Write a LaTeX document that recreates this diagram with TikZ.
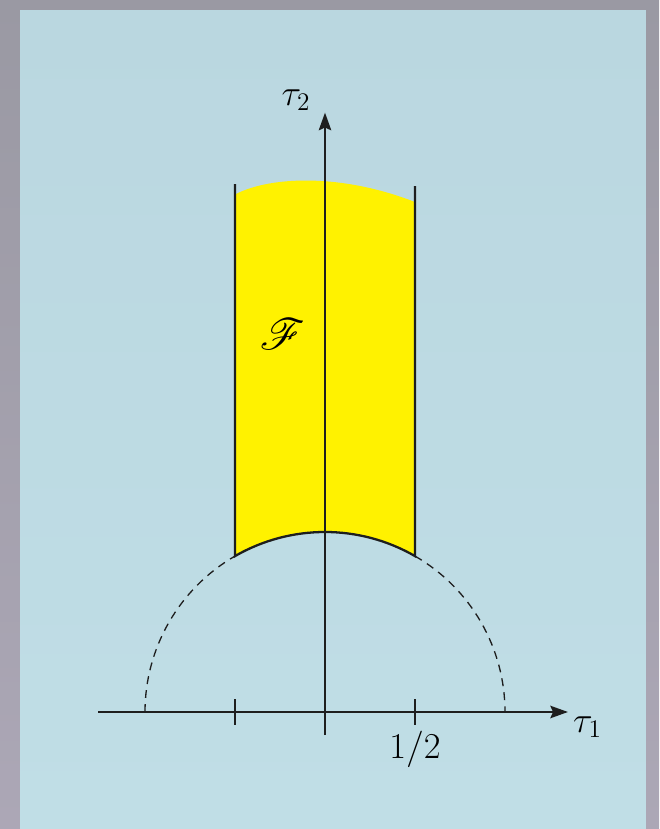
\documentclass[tikz,border=0pt]{standalone}
\usepackage{mathrsfs}
\usetikzlibrary{arrows.meta}

\definecolor{frameGray}{RGB}{154,153,163}
\definecolor{frameLow}{RGB}{172,167,182}
\definecolor{paneBlue}{RGB}{186,215,224}
\definecolor{paneLow}{RGB}{192,222,230}
\definecolor{domYellow}{RGB}{255,242,0}
\definecolor{inkBlack}{RGB}{30,30,30}

\tikzset{
  axis/.style={draw=inkBlack,line width=1.5pt,-{Stealth[length=10pt,width=7pt,inset=1.5pt]}},
  wall/.style={draw=inkBlack,line width=1.3pt},
  tick/.style={draw=inkBlack,line width=0.6pt},
  ghost/.style={draw=inkBlack,line width=0.75pt,dash pattern=on 4.5pt off 3.5pt},
  lbl/.style={inner sep=0pt,text=black,font=\fontsize{21.5}{26}\selectfont}
}

\begin{document}
\begin{tikzpicture}[>=Stealth,x=3.6cm,y=3.6cm]
  \useasboundingbox (-1.8056,-0.65) rectangle (1.8556,3.9556);
  \shade[top color=frameGray,bottom color=frameLow] (-1.8056,-0.65) rectangle (1.8556,3.9556);
  \shade[top color=paneBlue,bottom color=paneLow] (-1.6944,-0.65) rectangle (1.7833,3.9);

  % fundamental domain
  \fill[domYellow] (120:1) -- (-0.5,2.875)
    .. controls (-0.3,2.98) and (0.1,2.99) .. (0.5,2.833)
    -- (60:1) arc[start angle=60,end angle=120,radius=1] -- cycle;
  \draw[wall] (-0.5,2.933) -- (120:1) arc[start angle=120,end angle=60,radius=1] -- (0.5,2.922);
  \draw[ghost] (180:1) arc[start angle=180,end angle=120,radius=1];
  \draw[ghost] (60:1) arc[start angle=60,end angle=0,radius=1];

  % axes
  \draw[axis] (-1.261,0) -- (1.35,0);
  \draw[axis] (0,-0.128) -- (0,3.33);
  \draw[tick] (-0.5,-0.07) -- (-0.5,0.07);
  \draw[tick] (0.5,-0.07) -- (0.5,0.07);

  \node[lbl] (t1) at (1.458,-0.083) {$\tau_1$};
  \node[lbl] (t2) at (-0.161,3.4) {$\tau_2$};
  \node[lbl] (half) at (0.5,-0.205) {$1/2$};
  \node[lbl,font=\fontsize{34}{40}\selectfont] (dom) at (-0.236,2.1) {$\mathscr{F}$};
\end{tikzpicture}
\end{document}
